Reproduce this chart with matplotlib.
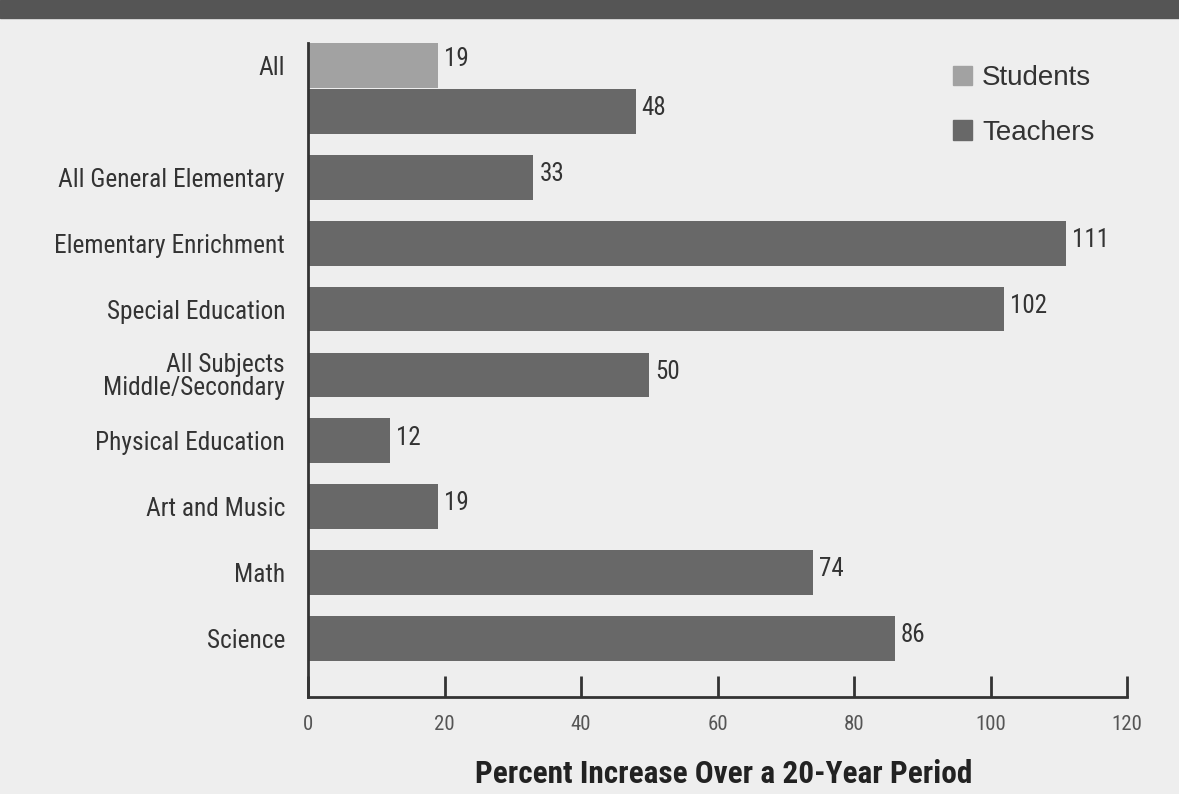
import numpy as np
import matplotlib
matplotlib.use('Agg')
import matplotlib.pyplot as plt
from matplotlib.patches import Patch
from matplotlib import font_manager as fm

# data
categories = ['All', 'All General Elementary', 'Elementary Enrichment', 'Special Education',
              'All Subjects\nMiddle/Secondary', 'Physical Education', 'Art and Music', 'Math', 'Science']
teachers = [48, 33, 111, 102, 50, 12, 19, 74, 86]
students_all = 19
x_ticks = [0, 20, 40, 60, 80, 100, 120]

bg = '#eeeeee'
c_teach = '#686868'
c_stud = '#a2a2a2'

# pick a condensed face if one is there
have = set(f.name for f in fm.fontManager.ttflist)
narrow = [f for f in ['Roboto Condensed', 'Archivo Narrow', 'PT Sans Narrow',
                      'Liberation Sans Narrow', 'Open Sans Condensed'] if f in have]
narrow = (narrow[:1] or ['Liberation Sans']) + ['DejaVu Sans']
regular = ['Liberation Sans', 'DejaVu Sans']

plt.rcParams['font.family'] = narrow

fig = plt.figure(figsize=(11.79, 7.94), dpi=100, facecolor=bg)
# dark band on top
fig.patches.append(plt.Rectangle((0, 1 - 18 / 794), 1, 18 / 794, transform=fig.transFigure,
                                 color='#555555', zorder=0))
ax = fig.add_axes([308 / 1179, 1 - 697 / 794, (1127 - 308) / 1179, (697 - 43) / 794])
ax.set_facecolor(bg)

h = 0.68
pos = np.arange(len(categories))
ax.barh(pos, teachers, height=h, color=c_teach)
stud_pos = -0.70
ax.barh([stud_pos], [students_all], height=h, color=c_stud)

for p, v in zip(pos, teachers):
    ax.text(v + 0.9, p - 0.05, str(v), va='center', ha='left', fontsize=18, color='#333333')
ax.text(students_all + 0.9, stud_pos - 0.1, str(students_all), va='center', ha='left',
        fontsize=18, color='#333333')

ax.set_xlim(0, 120)
ax.set_ylim(8.89, -1.04)
ax.set_xticks(x_ticks)
ax.set_xticklabels([str(t) for t in x_ticks], fontsize=15, color='#555555')
ax.tick_params(axis='x', direction='in', length=15, width=2, color='#333333', pad=13)

ytick_pos = [stud_pos] + list(pos[1:])
ax.set_yticks(ytick_pos)
ax.set_yticklabels(categories, fontsize=18.3, color='#333333', linespacing=0.95)
ax.tick_params(axis='y', length=0, pad=16.5)

for s in ['top', 'right']:
    ax.spines[s].set_visible(False)
for s in ['left', 'bottom']:
    ax.spines[s].set_linewidth(2)
    ax.spines[s].set_color('#333333')

ax.set_xlabel('Percent Increase Over a 20-Year Period', fontsize=22.5, fontweight='bold',
              color='#222222', labelpad=18)
ax.xaxis.label.set_x(0.508)

handles = [Patch(color=c_stud, label='Students'), Patch(color=c_teach, label='Teachers')]
leg = fig.legend(handles=handles, loc='upper left', bbox_to_anchor=(953 / 1179, 1 - 65 / 794),
                 frameon=False, borderpad=0, borderaxespad=0, handlelength=0.7,
                 handleheight=0.7, handletextpad=0.35, labelspacing=1.03,
                 prop={'family': regular, 'size': 20})
for t in leg.get_texts():
    t.set_color('#333333')

fig.savefig('out.png', dpi=100, facecolor=bg)
